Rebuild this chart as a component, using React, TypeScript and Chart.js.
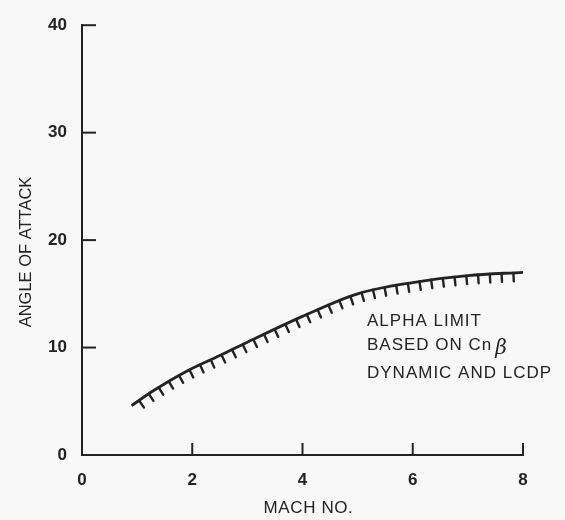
import React, { useEffect, useRef } from "react";
import { Chart, registerables } from "chart.js";

Chart.register(...registerables);

// ---- data ----
const machNo = [0.9, 1.3, 1.9, 2.5, 3.0, 4.0, 5.0, 6.0, 7.0, 8.0];
const alphaLimit = [4.6, 6.0, 7.8, 9.25, 10.5, 12.9, 15.0, 16.05, 16.7, 17.0];
const xTicks = [0, 2, 4, 6, 8];
const yTicks = [0, 10, 20, 30, 40];
const xTitle = "MACH NO.";
const yTitle = "ANGLE OF ATTACK";
const noteLines = ["ALPHA LIMIT", "BASED ON Cn", "DYNAMIC AND LCDP"];
const noteSymbol = "β";
const noteAnchor = { x: 5.17, y: 12.0 };

const INK = "#232323";
const BG = "#f8f8f8";
const FONT = '"Liberation Sans", Arial, Helvetica, sans-serif';

const backgroundPlugin = {
  id: "bgFill",
  beforeDraw(chart: any) {
    const { ctx, width, height } = chart;
    ctx.save();
    ctx.fillStyle = BG;
    ctx.fillRect(0, 0, width, height);
    ctx.restore();
  },
};

const tickMarkPlugin = {
  id: "inwardTicks",
  afterDraw(chart: any) {
    const { ctx, chartArea, scales } = chart;
    const xs = scales.x;
    const ys = scales.y;
    ctx.save();
    ctx.strokeStyle = INK;
    ctx.lineWidth = 2;
    ctx.lineCap = "butt";
    yTicks.filter((v) => v > 0).forEach((v) => {
      const py = ys.getPixelForValue(v);
      ctx.beginPath();
      ctx.moveTo(chartArea.left, py);
      ctx.lineTo(chartArea.left + 14, py);
      ctx.stroke();
    });
    xTicks.filter((v) => v > 0).forEach((v) => {
      const px = xs.getPixelForValue(v);
      ctx.beginPath();
      ctx.moveTo(px, chartArea.bottom);
      ctx.lineTo(px, chartArea.bottom - 12);
      ctx.stroke();
    });
    ctx.restore();
  },
};

const hatchPlugin = {
  id: "hatches",
  afterDatasetsDraw(chart: any) {
    const meta = chart.getDatasetMeta(0);
    const pts = meta.data as any[];
    if (!pts || pts.length < 2) return;
    const poly: { x: number; y: number }[] = [];
    for (let i = 0; i < pts.length - 1; i++) {
      const p0 = pts[i];
      const p1 = pts[i + 1];
      const c1x = p0.cp2x ?? p0.x;
      const c1y = p0.cp2y ?? p0.y;
      const c2x = p1.cp1x ?? p1.x;
      const c2y = p1.cp1y ?? p1.y;
      const steps = 60;
      for (let s = i === 0 ? 0 : 1; s <= steps; s++) {
        const t = s / steps;
        const u = 1 - t;
        const x = u * u * u * p0.x + 3 * u * u * t * c1x + 3 * u * t * t * c2x + t * t * t * p1.x;
        const y = u * u * u * p0.y + 3 * u * u * t * c1y + 3 * u * t * t * c2y + t * t * t * p1.y;
        poly.push({ x, y });
      }
    }
    const { ctx } = chart;
    ctx.save();
    ctx.strokeStyle = INK;
    ctx.lineWidth = 2.4;
    ctx.lineCap = "round";
    const spacing = 11.8;
    const len = 8.5;
    let next = 9;
    let acc = 0;
    for (let i = 0; i < poly.length - 1; i++) {
      const a = poly[i];
      const b = poly[i + 1];
      const dx = b.x - a.x;
      const dy = b.y - a.y;
      const d = Math.hypot(dx, dy);
      if (d === 0) continue;
      while (acc + d >= next) {
        const f = (next - acc) / d;
        const px = a.x + dx * f;
        const py = a.y + dy * f;
        const tx = dx / d;
        const ty = dy / d;
        const nx = -ty;
        const ny = tx;
        ctx.beginPath();
        ctx.moveTo(px, py);
        ctx.lineTo(px + nx * len, py + ny * len);
        ctx.stroke();
        next += spacing;
      }
      acc += d;
    }
    ctx.restore();
  },
};

const textPlugin = {
  id: "texts",
  afterDraw(chart: any) {
    const { ctx, chartArea, scales } = chart;
    ctx.save();
    ctx.fillStyle = INK;
    // y title
    ctx.font = `16.5px ${FONT}`;
    ctx.textAlign = "center";
    ctx.textBaseline = "middle";
    ctx.save();
    ctx.translate(26, 252);
    ctx.rotate(-Math.PI / 2);
    ctx.fillText(yTitle, 0, 0);
    ctx.restore();
    // x title
    ctx.font = `17px ${FONT}`;
    (ctx as any).letterSpacing = "0.6px";
    ctx.fillText(xTitle, (chartArea.left + chartArea.right) / 2 + 6, 508);
    // annotation
    const ax = scales.x.getPixelForValue(noteAnchor.x);
    const ay = scales.y.getPixelForValue(noteAnchor.y);
    ctx.font = `17px ${FONT}`;
    (ctx as any).letterSpacing = "1px";
    ctx.textAlign = "left";
    ctx.textBaseline = "alphabetic";
    const gaps = [0, 24, 52];
    noteLines.forEach((line, i) => {
      ctx.fillText(line, ax, ay + gaps[i]);
    });
    const w = ctx.measureText(noteLines[1]).width;
    (ctx as any).letterSpacing = "0px";
    ctx.font = `italic 20px "DejaVu Serif", "Liberation Serif", serif`;
    ctx.fillText(noteSymbol, ax + w + 3, ay + gaps[1] + 4);
    ctx.restore();
  },
};

export default function App() {
  const ref = useRef<HTMLCanvasElement | null>(null);
  useEffect(() => {
    document.body.style.margin = "0";
    document.body.style.background = BG;
    const canvas = ref.current!;
    const chart = new Chart(canvas, {
      type: "line",
      data: {
        datasets: [
          {
            data: machNo.map((m, i) => ({ x: m, y: alphaLimit[i] })),
            borderColor: INK,
            borderWidth: 2.8,
            pointRadius: 0,
            cubicInterpolationMode: "monotone",
            fill: false,
          },
        ],
      },
      options: {
        animation: false,
        responsive: false,
        devicePixelRatio: 1,
        layout: { padding: { top: 18, right: 42, left: 0, bottom: 0 } },
        plugins: { legend: { display: false }, tooltip: { enabled: false } },
        scales: {
          x: {
            type: "linear",
            min: 0,
            max: 8,
            afterBuildTicks: (s: any) => {
              s.ticks = xTicks.map((v) => ({ value: v }));
            },
            afterFit: (s: any) => {
              s.height = 65;
            },
            grid: { display: true, drawOnChartArea: false, drawTicks: false },
            border: { display: true, color: INK, width: 2 },
            ticks: {
              padding: 15,
              color: INK,
              font: { family: FONT, size: 17, weight: "bold" },
              maxRotation: 0,
            },
          },
          y: {
            type: "linear",
            min: 0,
            max: 40,
            afterBuildTicks: (s: any) => {
              s.ticks = yTicks.map((v) => ({ value: v }));
            },
            afterFit: (s: any) => {
              s.width = 82;
            },
            grid: { display: true, drawOnChartArea: false, drawTicks: false },
            border: { display: true, color: INK, width: 2 },
            ticks: {
              padding: 15,
              color: INK,
              font: { family: FONT, size: 17, weight: "bold" },
            },
          },
        },
      },
      plugins: [backgroundPlugin, hatchPlugin, tickMarkPlugin, textPlugin],
    } as any);
    return () => chart.destroy();
  }, []);
  return (
    <div style={{ width: 565, height: 520 }}>
      <canvas ref={ref} width={565} height={520} style={{ display: "block" }} />
    </div>
  );
}
